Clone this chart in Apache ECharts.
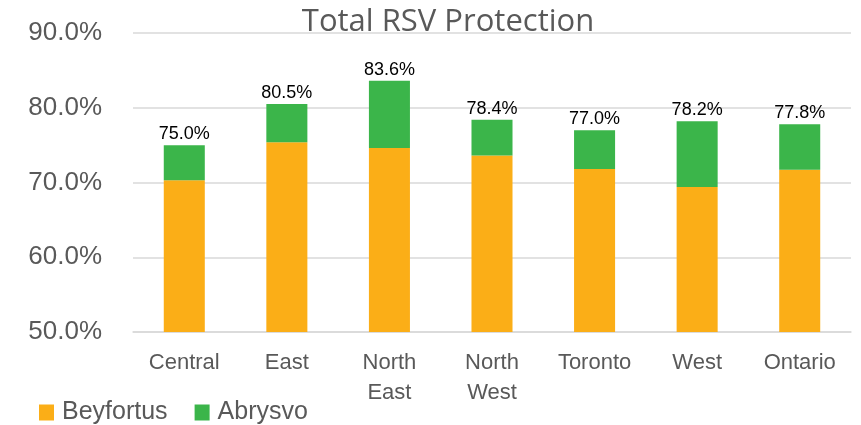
<!DOCTYPE html>
<html>
<head>
<meta charset="utf-8">
<script src="https://cdn.jsdelivr.net/npm/echarts@6/dist/echarts.min.js"></script>
<style>
  html, body { margin: 0; padding: 0; background: #fff; }
  #chart { width: 861px; height: 425px; }
</style>
</head>
<body>
<div id="chart"></div>
<script>
  // values
  const categories = ['Central', 'East', 'North\nEast', 'North\nWest', 'Toronto', 'West', 'Ontario'];
  const beyfortus = [70.3, 75.4, 74.6, 73.6, 71.8, 69.4, 71.7];
  const abrysvo = [4.7, 5.1, 9.0, 4.8, 5.2, 8.8, 6.1];
  const totals = [75.0, 80.5, 83.6, 78.4, 77.0, 78.2, 77.8];
  const yTicks = [50, 60, 70, 80, 90];

  const grey = '#595959';
  const font = 'Liberation Sans';

  let myChart = echarts.init(document.getElementById('chart'));

  myChart.setOption({
    animation: false,
    title: {
      text: 'Total RSV Protection',
      left: 448,
      top: 7,
      padding: 0,
      textAlign: 'center',
      textStyle: {
        fontFamily: 'Open Sans',
        fontWeight: 'normal',
        fontSize: 31,
        color: grey
      }
    },
    legend: {
      left: 39,
      top: 400,
      padding: 0,
      itemWidth: 15,
      itemHeight: 16,
      itemGap: 27,
      icon: 'rect',
      textStyle: {
        fontFamily: font,
        fontSize: 25,
        lineHeight: 24,
        color: grey,
        padding: [0, 0, 0, 3]
      },
      data: ['Beyfortus', 'Abrysvo']
    },
    grid: {
      left: 133,
      right: 10,
      top: 33,
      bottom: 93,
      containLabel: false
    },
    xAxis: {
      type: 'category',
      data: categories,
      axisLine: { show: true, lineStyle: { color: '#d9d9d9', width: 1.5 } },
      axisTick: { show: false },
      axisLabel: {
        interval: 0,
        margin: 16,
        fontFamily: font,
        fontSize: 22,
        lineHeight: 30,
        color: grey
      }
    },
    yAxis: {
      type: 'value',
      min: yTicks[0],
      max: yTicks[yTicks.length - 1],
      interval: 10,
      axisLine: { show: false },
      axisTick: { show: false },
      splitLine: { lineStyle: { color: '#d9d9d9', width: 1.5 } },
      axisLabel: {
        margin: 31,
        fontFamily: font,
        fontSize: 26,
        color: grey,
        formatter: function (v) { return v.toFixed(1) + '%'; }
      }
    },
    series: [
      {
        name: 'Beyfortus',
        type: 'bar',
        stack: 'total',
        barWidth: '40%',
        itemStyle: { color: '#FBAE17' },
        data: beyfortus
      },
      {
        name: 'Abrysvo',
        type: 'bar',
        stack: 'total',
        barWidth: '40%',
        itemStyle: { color: '#3BB54A' },
        label: {
          show: true,
          position: 'top',
          distance: 2,
          fontFamily: font,
          fontSize: 18,
          color: '#000',
          formatter: function (p) { return totals[p.dataIndex].toFixed(1) + '%'; }
        },
        data: abrysvo
      }
    ]
  });
</script>
</body>
</html>
